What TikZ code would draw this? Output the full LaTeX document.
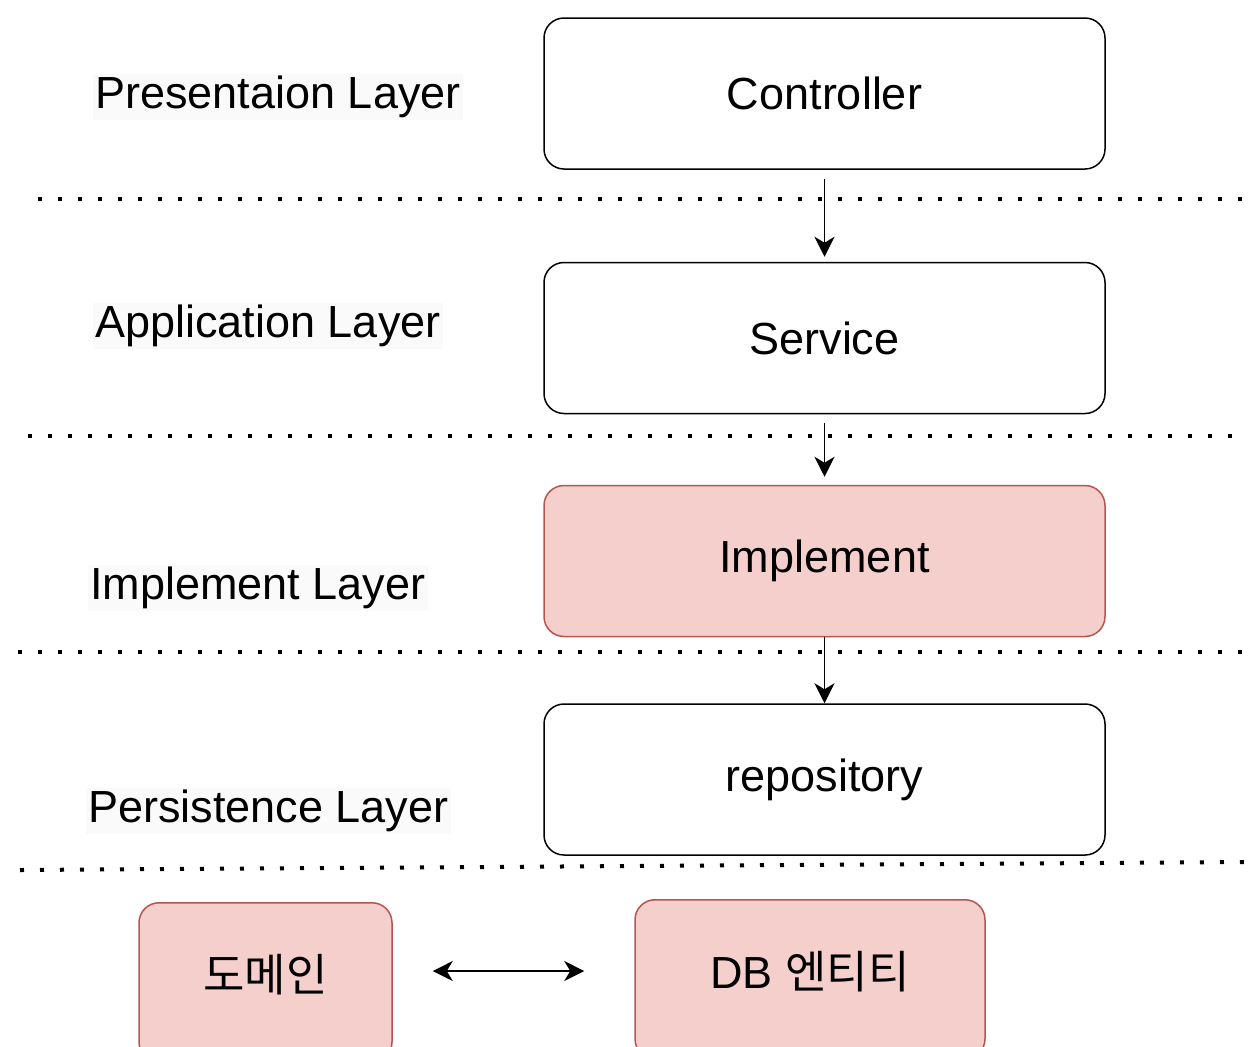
\documentclass[tikz,border=0pt]{standalone}
\usepackage{fontspec}
\setmainfont{Liberation Sans}
\newfontfamily\krfont{Noto Sans CJK KR}
\usetikzlibrary{arrows.meta, positioning}
\definecolor{redfill}{HTML}{F4CFCC}
\definecolor{redline}{HTML}{B85450}
\tikzstyle{layerbox} = [rectangle, rounded corners=10pt, minimum width=280.5pt, minimum height=75.5pt, text centered, draw=black, line width=0.75pt, font=\fontsize{22.5}{27}\selectfont]
\tikzstyle{entitybox} = [layerbox, draw=redline, fill=redfill]
\tikzstyle{cutbox} = [entitybox, anchor=north, minimum height=0pt, inner ysep=0pt, text height=44.5pt, text depth=35pt]
\tikzstyle{layername} = [anchor=west, fill=black!2, inner sep=1pt, font=\fontsize{22.5}{27}\selectfont]
\tikzstyle{layerline} = [line width=2pt, line cap=butt, dash pattern=on 2pt off 8pt]
\tikzstyle{arrow} = [-{Stealth[length=10pt, width=10pt, inset=3pt]}, line width=0.75pt]
\tikzstyle{twoway} = [{Stealth[length=10pt, width=10pt, inset=3pt]}-{Stealth[length=10pt, width=10pt, inset=3pt]}, line width=0.75pt]

\begin{document}
\begin{tikzpicture}[x=0.5pt, y=-0.5pt]
	\clip (0,0) rectangle (1252,1046);
	\useasboundingbox (0,0) rectangle (1252,1046);

	% layer names
	\node (presname) [layername] at (93,97) {Presentaion Layer};
	\node (appname) [layername] at (93,326) {Application Layer};
	\node (implname) [layername] at (88,588) {Implement Layer};
	\node (persname) [layername] at (86,811) {Persistence Layer};

	% boxes
	\node (controller) [layerbox] at (824.5,93.5) {Controller};
	\node (service) [layerbox] at (824.5,338) {Service};
	\node (implement) [entitybox] at (824.5,561) {Implement};
	\node (repository) [layerbox] at (824.5,779.5) {repository};
	\node (domain) [cutbox, minimum width=126.5pt] at (265.5,902) {\krfont 도메인};
	\node (dbentity) [cutbox, minimum width=175pt] at (810,899) {DB {\krfont 엔티티}};

	% dotted separators
	\draw [layerline] (38,199) -- (1252,199);
	\draw [layerline] (28,436) -- (1240,436);
	\draw [layerline] (18,652) -- (1252,652);
	\draw [layerline] (20,870) -- (1252,862);

	\draw [arrow, shorten <=4.5pt, shorten >=2.5pt](controller) -- (service);
	\draw [arrow, shorten <=4.5pt, shorten >=4pt](service) -- (implement);
	\draw [arrow](implement) -- (repository);
	\draw [twoway, shorten <=20pt, shorten >=25pt](domain.east |- 0,971) -- (dbentity.west |- 0,971);
\end{tikzpicture}
\end{document}
